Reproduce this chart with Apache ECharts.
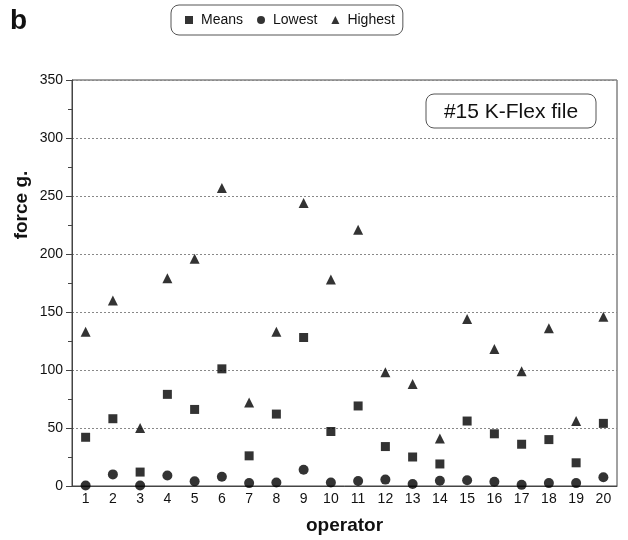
<!DOCTYPE html>
<html lang="en">
<head>
	<meta charset="UTF-8">
	<title>K-Flex force</title>
	<style>
	body, div {
		margin: 0;
		padding: 0;
	}
	#echart {
		width: 628px;
		height: 540px;
	}
	</style>
</head>
<body>
	<div id="echart"></div>

	<script src="https://cdn.jsdelivr.net/npm/echarts@6/dist/echarts.min.js"></script>

	<script>
		// operators 1..20
		var operators = ['1','2','3','4','5','6','7','8','9','10','11','12','13','14','15','16','17','18','19','20'];
		var means   = [42, 58, 12, 79, 66, 101, 26, 62, 128, 47, 69, 34, 25, 19, 56, 45, 36, 40, 20, 54];
		var lowest  = [0.5, 10, 0.5, 9, 4, 8, 2.5, 3, 14, 3, 4.3, 5.5, 1.8, 4.5, 5, 3.7, 1, 2.5, 2.5, 7.5];
		var highest = [133, 160, 50, 179, 196, 257, 72, 133, 244, 178, 221, 98, 88, 41, 144, 118, 99, 136, 56, 146];
		var yTicks  = [0, 50, 100, 150, 200, 250, 300, 350];

		var FONT = 'Liberation Sans, Arial, sans-serif';
		var myEchart = echarts.init(document.getElementById('echart'));

var option = {
    backgroundColor: '#fff',
    animation: false,
    textStyle: { fontFamily: FONT },
    grid: {
        show: true,
        left: 72,
        right: 11,
        top: 80,
        bottom: 49,
        borderColor: '#444',
        borderWidth: 1
    },
    legend: {
        left: 171,
        top: 5,
        padding: [8, 8, 8, 14],
        itemGap: 14,
        itemWidth: 8,
        itemHeight: 8,
        borderColor: '#555',
        borderWidth: 1,
        borderRadius: 8,
        textStyle: { fontFamily: FONT, fontSize: 14, color: '#111', padding: [0, 0, 0, 3] },
        data: [
            { name: 'Means', icon: 'rect' },
            { name: 'Lowest', icon: 'circle' },
            { name: 'Highest', icon: 'triangle' }
        ]
    },
    xAxis: {
        type: 'category',
        data: operators,
        boundaryGap: true,
        name: 'operator',
        nameLocation: 'middle',
        nameGap: 30,
        nameTextStyle: { fontFamily: FONT, fontSize: 19, fontWeight: 'bold', color: '#111' },
        axisLine: { lineStyle: { color: '#444' } },
        axisTick: { alignWithLabel: true, length: 6, lineStyle: { color: '#444' } },
        axisLabel: { fontFamily: FONT, fontSize: 14, color: '#111', margin: 6 },
        splitLine: { show: false }
    },
    yAxis: {
        type: 'value',
        min: yTicks[0],
        max: yTicks[yTicks.length - 1],
        interval: 50,
        axisLine: { show: true, lineStyle: { color: '#444' } },
        axisTick: { show: true, length: 6, lineStyle: { color: '#444' } },
        minorTick: { show: true, splitNumber: 2, length: 4, lineStyle: { color: '#444' } },
        axisLabel: { fontFamily: FONT, fontSize: 14, color: '#111', margin: 9 },
        splitLine: { show: true, lineStyle: { color: '#888', type: [2, 2], width: 1 } }
    },
    graphic: [
        {
            type: 'text',
            left: 10,
            top: 7,
            style: { text: 'b', font: 'bold 28px ' + FONT, fill: '#111' }
        },
        {
            type: 'text',
            x: 22,
            y: 205,
            rotation: Math.PI / 2,
            style: {
                text: 'force g.',
                font: 'bold 19px ' + FONT,
                fill: '#111',
                align: 'center',
                verticalAlign: 'middle'
            }
        },
        {
            type: 'rect',
            shape: { x: 426, y: 94, width: 170, height: 34, r: 8 },
            style: { fill: '#fff', stroke: '#555', lineWidth: 1 },
            z: 10
        },
        {
            type: 'text',
            x: 511,
            y: 112,
            z: 11,
            style: {
                text: '#15 K-Flex file',
                font: '21px ' + FONT,
                fill: '#111',
                align: 'center',
                verticalAlign: 'middle'
            }
        }
    ],
    series: [
        {
            name: 'Means',
            type: 'scatter',
            symbol: 'rect',
            symbolSize: 9,
            itemStyle: { color: '#000' },
            data: means
        },
        {
            name: 'Lowest',
            type: 'scatter',
            symbol: 'circle',
            symbolSize: 10,
            itemStyle: { color: '#000' },
            data: lowest
        },
        {
            name: 'Highest',
            type: 'scatter',
            symbol: 'triangle',
            symbolSize: 10,
            itemStyle: { color: '#000' },
            data: highest
        }
    ]
};

		myEchart.setOption(option);
	</script>
</body>
</html>
